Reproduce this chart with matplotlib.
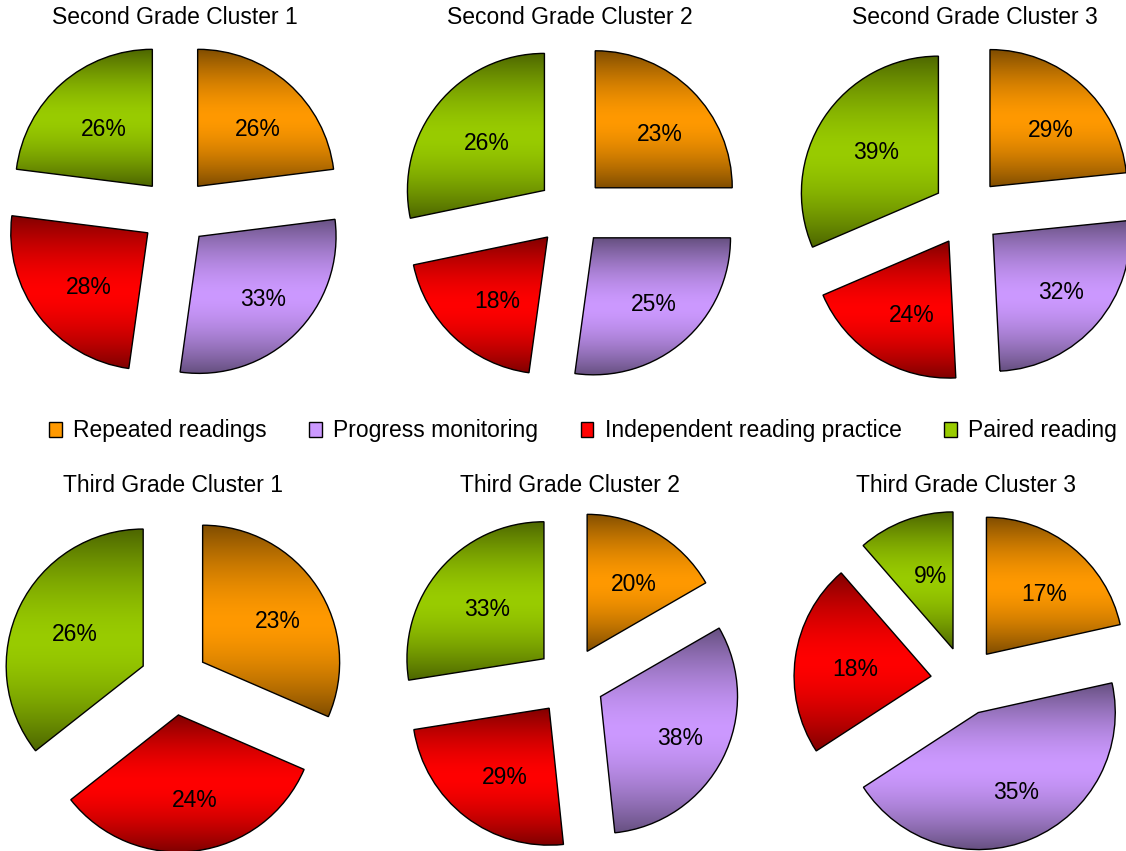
import numpy as np
import matplotlib
matplotlib.use("Agg")
import matplotlib.pyplot as plt
from matplotlib.patches import Patch
from matplotlib.colors import to_rgb

plt.rcParams['font.family'] = ['Liberation Sans', 'DejaVu Sans']

categories = ["Repeated readings", "Progress monitoring",
              "Independent reading practice", "Paired reading"]
titles = ["Second Grade Cluster 1", "Second Grade Cluster 2", "Second Grade Cluster 3",
          "Third Grade Cluster 1", "Third Grade Cluster 2", "Third Grade Cluster 3"]

# values in percent, order: repeated, progress, independent, paired
sg1 = [26, 33, 28, 26]
sg2 = [23, 25, 18, 26]
sg3 = [29, 32, 24, 39]
tg1 = [23, 0, 24, 26]
tg2 = [20, 38, 29, 33]
tg3 = [17, 35, 18, 9]
all_values = [sg1, sg2, sg3, tg1, tg2, tg3]

bright = ["#FF9900", "#CC99FF", "#FF0000", "#99CC00"]
dark = ["#804D00", "#665080", "#800000", "#4D6600"]

W, H = 1126, 851
R = 137.0  # pie radius in px
half = 195  # half of axes size in px
centers = [(175, 212), (571, 212), (967, 212), (174, 681), (570, 681), (965, 681)]
title_pos = [(175, 18), (570, 18), (975, 18), (173, 486), (570, 486), (966, 486)]
FS = 16.5

fig = plt.figure(figsize=(W / 100, H / 100), dpi=100)


def gradient_pie(ax, values):
    idx = [i for i, v in enumerate(values) if v > 0]  # zero slices are not drawn
    vals = [values[i] for i in idx]
    wedges, _ = ax.pie(vals, startangle=90, counterclock=False, radius=1,
                       explode=[0.25] * len(vals),
                       wedgeprops=dict(edgecolor='black', linewidth=1.0))
    t = np.linspace(0, 1, 256)
    f = 1 - np.abs(2 * t - 1) ** 1.6
    for w, i, v in zip(wedges, idx, vals):
        c0 = np.array(to_rgb(dark[i]))
        c1 = np.array(to_rgb(bright[i]))
        img = (c0 + (c1 - c0) * f[:, None])[:, None, :]
        ext = w.get_path().get_extents()
        im = ax.imshow(img, extent=[ext.x0, ext.x1, ext.y0, ext.y1], origin='upper',
                       aspect='auto', interpolation='bilinear', zorder=w.get_zorder() - 0.5)
        im.set_clip_path(w)
        w.set_facecolor('none')
        # label, nudged a little right/down like the original
        mid = np.deg2rad((w.theta1 + w.theta2) / 2)
        cx, cy = w.center
        ax.text(cx + 0.6 * np.cos(mid) + 6 / R, cy + 0.6 * np.sin(mid) - 4.5 / R, f"{v}%",
                ha='center', va='center', fontsize=FS, zorder=5)
    lim = half / R
    ax.set_xlim(-lim, lim)
    ax.set_ylim(-lim, lim)
    ax.set_aspect('equal')
    ax.axis('off')


for vals, (cx, cy) in zip(all_values, centers):
    ax = fig.add_axes([(cx - half) / W, (H - cy - half) / H, 2 * half / W, 2 * half / H])
    gradient_pie(ax, vals)

for title, (tx, ty) in zip(titles, title_pos):
    fig.text(tx / W, 1 - ty / H, title, ha='center', va='center', fontsize=FS)

handles = [Patch(facecolor=bright[i], edgecolor='black', label=categories[i]) for i in range(4)]
fig.legend(handles=handles, loc='center', bbox_to_anchor=(583 / W, 1 - 431 / H), ncol=4,
           frameon=False, fontsize=FS, handlelength=0.55, handleheight=0.65,
           handletextpad=0.5, columnspacing=1.85)

fig.savefig("out.png", dpi=100)
